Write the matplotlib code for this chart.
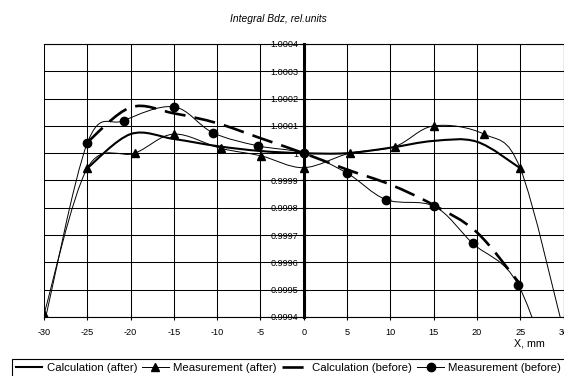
import numpy as np
import matplotlib
matplotlib.use("Agg")
import matplotlib.pyplot as plt
from matplotlib.path import Path
from matplotlib.patches import PathPatch
from matplotlib.lines import Line2D

plt.rcParams['font.family'] = ['Liberation Sans', 'DejaVu Sans']
plt.rcParams['axes.unicode_minus'] = False

# data
x_calc = [-25, -20, -15, -10, -5, 0, 5, 10, 15, 20, 25]
calc_after = [0.999945, 1.00007, 1.000052, 1.000026, 1.000008, 1.0,
              1.0, 1.00002, 1.000045, 1.000042, 0.999945]
calc_before = [1.00004, 1.000168, 1.000146, 1.00011, 1.000055, 1.0,
               0.99994, 0.999885, 0.99981, 0.99971, 0.99952]

x_meas_after = [-30, -25, -19.5, -15, -9.6, -4.9, 0, 5.3, 10.5, 15, 20.8, 25, 30]
meas_after = [0.99941, 0.999945, 1.0, 1.00007, 1.000018, 0.99999, 0.999947,
              1.0, 1.000024, 1.0001, 1.00007, 0.999945, 0.99935]

x_meas_before = [-30, -25, -20.8, -15, -10.5, -5.3, 0, 5, 9.5, 15.1, 19.5, 24.8, 30]
meas_before = [0.99937, 1.000037, 1.000119, 1.00017, 1.000075, 1.000027, 1.0,
               0.999927, 0.99983, 0.999805, 0.99967, 0.999516, 0.99905]

x_ticks = list(range(-30, 31, 5))
y_ticks = [0.9994, 0.9995, 0.9996, 0.9997, 0.9998, 0.9999, 1.0,
           1.0001, 1.0002, 1.0003, 1.0004]
labels = ['Calculation (after)', 'Measurement (after)',
          'Calculation (before)', 'Measurement (before)']


def smooth(xs, ys):
    # excel-like smoothed line (catmull-rom as bezier)
    p = np.column_stack([xs, ys]).astype(float)
    n = len(p)
    verts = [p[0]]
    codes = [Path.MOVETO]
    for i in range(n - 1):
        p0 = p[i - 1] if i > 0 else p[i]
        p3 = p[i + 2] if i + 2 < n else p[i + 1]
        verts += [p[i] + (p[i + 1] - p0) / 6, p[i + 1] - (p3 - p[i]) / 6, p[i + 1]]
        codes += [Path.CURVE4] * 3
    return Path(verts, codes)


fig = plt.figure(figsize=(5.64, 3.76), dpi=100)
ax = fig.add_axes([44 / 564, 59 / 376, 519.5 / 564, 273 / 376])

ax.add_patch(PathPatch(smooth(x_meas_after, meas_after), fill=False, ec='k', lw=0.7, zorder=3))
ax.add_patch(PathPatch(smooth(x_meas_before, meas_before), fill=False, ec='k', lw=0.7, zorder=3))
ax.add_patch(PathPatch(smooth(x_calc, calc_after), fill=False, ec='k', lw=1.5, zorder=4))
pb = PathPatch(smooth(x_calc, calc_before), fill=False, ec='k', lw=1.9, zorder=4)
pb.set_linestyle((0, (8, 3.5)))
pb.set_capstyle('butt')
ax.add_patch(pb)

ax.plot(x_meas_after, meas_after, ls='none', marker='^', ms=5.5, color='k', zorder=5)
ax.plot(x_meas_before, meas_before, ls='none', marker='o', ms=6, color='k', zorder=5)

ax.set_xlim(-30, 30)
ax.set_ylim(0.9994, 1.0004)
ax.set_xticks(x_ticks)
ax.set_yticks(y_ticks)
ax.set_yticklabels([('%.4f' % v).rstrip('0').rstrip('.') for v in y_ticks],
                   fontstyle='italic')
ax.grid(True, color='k', lw=0.75)
ax.set_axisbelow(True)

ax.spines['left'].set_position(('data', 0))
ax.spines['left'].set_linewidth(2.2)
ax.spines['left'].set_zorder(2.5)
for s in ['top', 'bottom', 'right']:
    ax.spines[s].set_linewidth(0.8)
ax.tick_params(axis='y', direction='inout', length=6, width=0.8, labelsize=6.6, pad=1)
ax.tick_params(axis='x', direction='inout', length=5, width=0.8, labelsize=6.6, pad=5.5)

fig.text(278 / 564, 1 - 19 / 376, 'Integral Bdz, rel.units', fontsize=7.4,
         fontstyle='italic', ha='center', va='center')
fig.text(545 / 564, 1 - 343 / 376, 'X, mm', fontsize=7.7, ha='right', va='center')

handles = [
    Line2D([], [], color='k', lw=1.5),
    Line2D([], [], color='k', lw=0.7, marker='^', ms=5.5),
    Line2D([], [], color='k', lw=1.9, ls=(0, (8, 3.5))),
    Line2D([], [], color='k', lw=0.7, marker='o', ms=6),
]
leg = fig.legend(handles, labels, ncol=4, loc='upper left',
                 bbox_to_anchor=(12 / 564, 1 - 359 / 376), fontsize=8.2,
                 handlelength=2.3, handletextpad=0.4, columnspacing=0.45,
                 borderpad=0.35, borderaxespad=0, numpoints=1,
                 fancybox=False, framealpha=1, edgecolor='k')
leg.get_frame().set_linewidth(0.8)

fig.savefig('out.png', dpi=100)
